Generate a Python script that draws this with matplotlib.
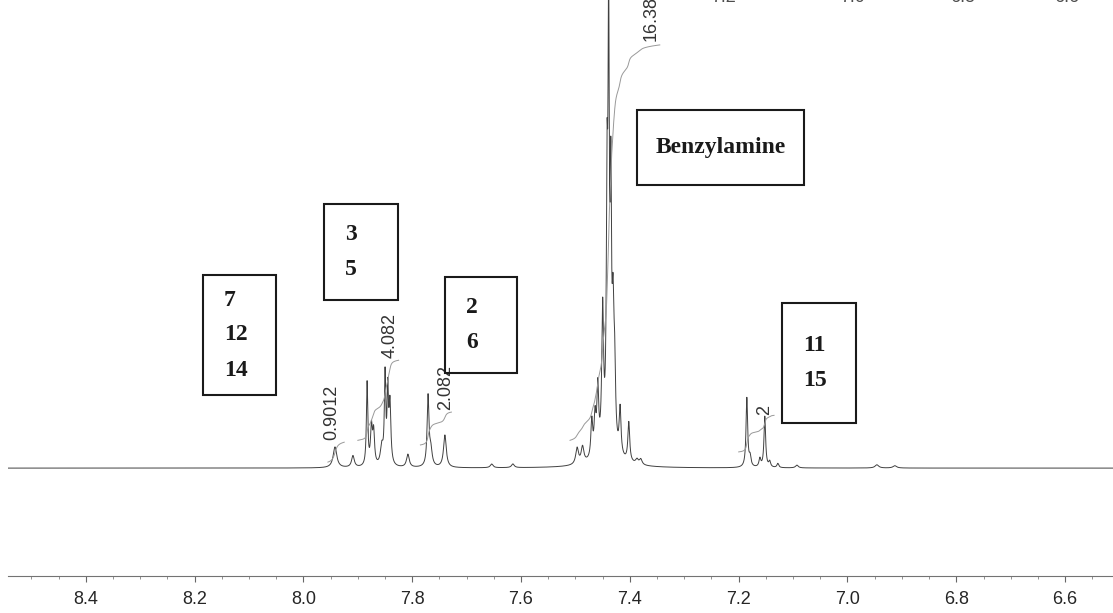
import numpy as np
import matplotlib
matplotlib.use('Agg')
import matplotlib.pyplot as plt
from matplotlib.patches import Rectangle
from matplotlib.ticker import MultipleLocator

### Peak list: shift (ppm), height (rel.), half width (ppm)
peak_ppm = [7.942, 7.909, 7.883, 7.875, 7.871, 7.856, 7.850, 7.845, 7.841, 7.808,
            7.771, 7.766, 7.740, 7.654, 7.615,
            7.497, 7.487, 7.470, 7.464, 7.459, 7.450, 7.442, 7.439, 7.435, 7.431,
            7.428, 7.418, 7.402, 7.387, 7.380, 7.440,
            7.185, 7.179, 7.161, 7.152, 7.143, 7.128, 7.093, 6.946, 6.913]
peak_hgt = [0.045, 0.025, 0.18, 0.08, 0.07, 0.04, 0.19, 0.15, 0.13, 0.028,
            0.15, 0.035, 0.07, 0.008, 0.008,
            0.035, 0.035, 0.08, 0.08, 0.14, 0.30, 0.50, 0.85, 0.50, 0.25,
            0.15, 0.10, 0.085, 0.010, 0.012, 0.02,
            0.15, 0.02, 0.018, 0.11, 0.012, 0.009, 0.006, 0.007, 0.005]
peak_wid = [0.004, 0.003, 0.0015, 0.002, 0.002, 0.003, 0.0015, 0.0015, 0.002, 0.003,
            0.002, 0.003, 0.003, 0.003, 0.003,
            0.003, 0.003, 0.002, 0.002, 0.002, 0.002, 0.0015, 0.0015, 0.0015, 0.002,
            0.002, 0.002, 0.002, 0.003, 0.003, 0.03,
            0.0018, 0.002, 0.002, 0.0018, 0.002, 0.002, 0.003, 0.004, 0.004]

### Integrals: ppm range, start/end level, label text, label position
int_rng = [(7.955, 7.925), (7.900, 7.825), (7.785, 7.728), (7.510, 7.345), (7.200, 7.135)]
int_lev = [(0.013, 0.056), (0.06, 0.233), (0.05, 0.121), (0.06, 0.914), (0.035, 0.114)]
int_lab = ['0.9012', '4.082', '2.082', '16.38', '2']
int_lab_x = [7.948, 7.841, 7.738, 7.361, 7.152]
int_lab_y = [0.060, 0.238, 0.125, 0.922, 0.114]

### Assignment boxes (pixel coords: left, top, right, bottom), lines of text
box_px = [(203, 275, 276, 395), (324, 204, 398, 300), (445, 277, 517, 373),
          (782, 303, 856, 423), (637, 110, 804, 185)]
box_txt = [['7', '12', '14'], ['3', '5'], ['2', '6'], ['11', '15'], ['Benzylamine']]

xticks = [8.4, 8.2, 8.0, 7.8, 7.6, 7.4, 7.2, 7.0, 6.8, 6.6]
top_lab = ['7.2', '7.0', '6.8', '6.6']
top_lab_px = [723, 853, 963, 1067]

W, H = 1113, 613


def spectrum(x):
    y = np.zeros_like(x)
    for p, h, w in zip(peak_ppm, peak_hgt, peak_wid):
        y += h / (1 + ((x - p) / w) ** 2)
    return y


def fx(px):
    return px / W


def fy(py):
    return 1 - py / H


def main():
    fig = plt.figure(figsize=(W / 100, H / 100), dpi=100)
    ax = fig.add_axes([fx(8), fy(576), 1 - fx(8), 576 / H])

    x = np.linspace(8.543, 6.512, 20000)
    y = spectrum(x)
    ax.plot(x, y, color='0.25', lw=0.7)

    ### Integral curves
    for (a, b), (s, e), lab, lx, ly in zip(int_rng, int_lev, int_lab, int_lab_x, int_lab_y):
        xi = np.linspace(a, b, 1500)
        yi = spectrum(xi)
        cum = np.cumsum(yi)
        cum = cum / cum[-1]
        ax.plot(xi, s + (e - s) * cum, color='0.6', lw=0.7)
        ax.text(lx, ly, lab, rotation=90, ha='center', va='bottom',
                fontsize=13, family='Liberation Sans', color='0.2', clip_on=False)

    ax.set_xlim(8.543, 6.512)
    ax.set_ylim(-0.233, 1.011)
    for s in ['top', 'left', 'right']:
        ax.spines[s].set_visible(False)
    ax.spines['bottom'].set_color('0.45')
    ax.spines['bottom'].set_linewidth(0.8)
    ax.set_yticks([])
    ax.set_xticks(xticks)
    ax.set_xticklabels(['{:.1f}'.format(v) for v in xticks])
    ax.xaxis.set_minor_locator(MultipleLocator(0.05))
    ax.tick_params(axis='x', which='major', length=4, color='0.4', labelsize=13,
                   labelcolor='0.15', pad=7)
    ax.tick_params(axis='x', which='minor', length=2, color='0.5')
    for t in ax.get_xticklabels():
        t.set_family('Liberation Sans')
    ax.patch.set_visible(False)

    ### Assignment boxes
    for (l, t, r, b), lines in zip(box_px, box_txt):
        fig.patches.append(Rectangle((fx(l), fy(b)), fx(r) - fx(l), fy(t) - fy(b),
                                     transform=fig.transFigure, fill=False,
                                     ec='0.1', lw=1.5))
        if len(lines) == 1:
            fig.text(fx((l + r) / 2), fy((t + b) / 2), lines[0], ha='center', va='center',
                     fontsize=17, weight='bold', family='Liberation Serif', color='0.1')
        else:
            nl = len(lines)
            y0 = (t + b) / 2 - (nl - 1) * 35 / 2
            for i, s in enumerate(lines):
                fig.text(fx(l + 21), fy(y0 + i * 35), s, ha='left', va='center',
                         fontsize=17, weight='bold', family='Liberation Serif', color='0.1')

    ### Tick labels of the panel above, mostly cut off
    for s, px in zip(top_lab, top_lab_px):
        fig.text(fx(px), fy(-3), s, ha='center', va='center', fontsize=13,
                 family='Liberation Sans', color='0.3')

    fig.savefig('out.png', dpi=100)
    return


if __name__ == "__main__":
    main()
